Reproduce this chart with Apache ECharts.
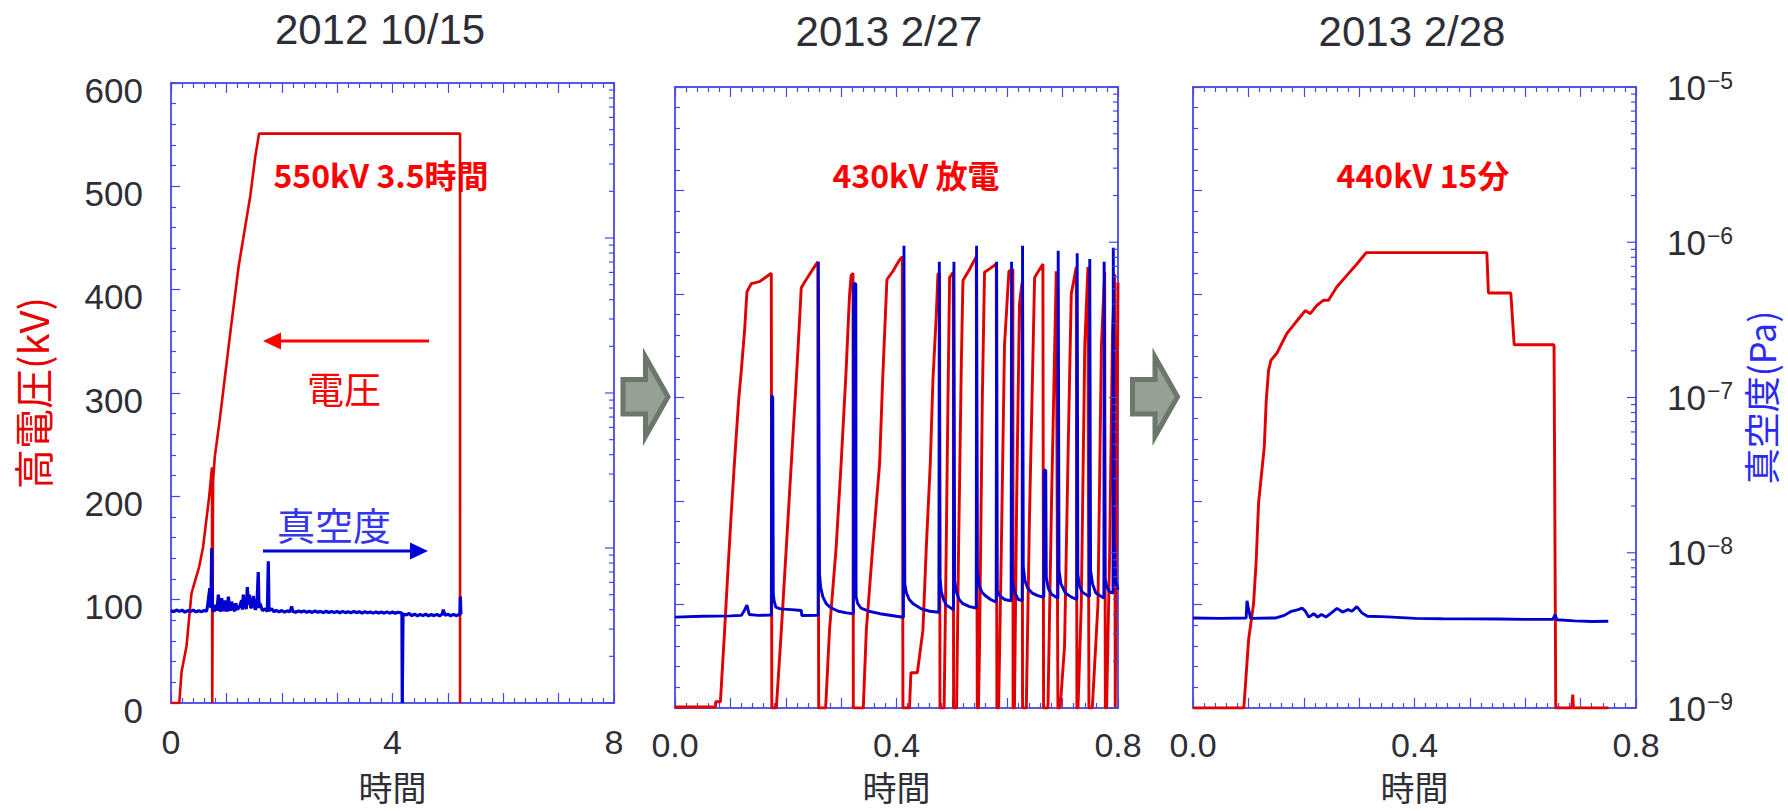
<!DOCTYPE html>
<html><head><meta charset="utf-8">
<script src="https://cdn.jsdelivr.net/npm/echarts@6/dist/echarts.min.js"></script>
<style>html,body{margin:0;padding:0;background:#fff}#c{width:1788px;height:811px}</style>
</head><body><div id="c"></div>
<script>
// ---------- texts ----------
const panelTitles = ['2012 10/15', '2013 2/27', '2013 2/28'];
const panelNotes = ['550kV 3.5時間', '430kV 放電', '440kV 15分'];
const xAxisName = '時間';
const leftAxisName = '高電圧(kV)';
const rightAxisName = '真空度(Pa)';
const voltageArrowLabel = '電圧';
const vacuumArrowLabel = '真空度';

// ---------- axes ----------
const xMaxes = [8, 0.8, 0.8];
const xIntervals = [1, 0.1, 0.1];
const xTickLabels = [[0, 4, 8], [0, 0.4, 0.8], [0, 0.4, 0.8]];
const voltageRange = [0, 600];
const voltageInterval = 100;
const vacuumRange = [1e-9, 1e-5];
const logMajorTicks = [1e-9, 1e-8, 1e-7, 1e-6, 1e-5];
const logMinorTicks = [2e-9,3e-9,4e-9,5e-9,6e-9,7e-9,8e-9,9e-9,
  2e-8,3e-8,4e-8,5e-8,6e-8,7e-8,8e-8,9e-8,
  2e-7,3e-7,4e-7,5e-7,6e-7,7e-7,8e-7,9e-7,
  2e-6,3e-6,4e-6,5e-6,6e-6,7e-6,8e-6,9e-6];

// ---------- data: panel 1 (2012 10/15) [time, kV] / [time, Pa] ----------
const oct15Voltage = [[0,0],[0.15,0],[0.19,30],[0.28,55],[0.37,106],[0.51,132],[0.58,151],[0.69,200],[0.74,228],[0.745,0],[0.755,0],[0.76,215],[0.79,238],[0.88,274],[1.07,358],[1.22,422],[1.34,461],[1.43,490],[1.52,528],[1.59,551],[5.22,551],[5.22,0]];
const oct15Vacuum = [[0,3.95e-9],[0.05,3.88e-9],[0.1,3.98e-9],[0.15,3.9e-9],[0.2,3.97e-9],[0.25,3.86e-9],[0.3,3.95e-9],[0.35,3.89e-9],[0.4,3.97e-9],[0.45,3.87e-9],[0.5,3.94e-9],[0.55,3.88e-9],[0.6,3.96e-9],[0.64,3.9e-9],[0.66,4.2e-9],[0.70,5.5e-9],[0.72,4.1e-9],[0.735,1e-8],[0.75,4.0e-9],[0.78,3.9e-9],[0.8,4.3e-9],[0.83,3.95e-9],[0.855,5.0e-9],[0.88,4.0e-9],[0.9,3.9e-9],[0.915,4.75e-9],[0.94,4.1e-9],[0.96,3.92e-9],[0.975,4.6e-9],[1.0,4.05e-9],[1.02,3.9e-9],[1.035,4.85e-9],[1.06,4.1e-9],[1.08,3.95e-9],[1.095,4.5e-9],[1.13,4.05e-9],[1.15,3.9e-9],[1.17,4.4e-9],[1.2,4.0e-9],[1.23,4.15e-9],[1.25,4.3e-9],[1.276,4.6e-9],[1.29,4.0e-9],[1.306,5.0e-9],[1.33,4.2e-9],[1.36,4.05e-9],[1.378,5.6e-9],[1.40,4.3e-9],[1.414,5.0e-9],[1.44,4.1e-9],[1.47,4.25e-9],[1.486,4.9e-9],[1.52,4.0e-9],[1.55,4.2e-9],[1.576,7.0e-9],[1.59,4.1e-9],[1.606,4.4e-9],[1.65,3.95e-9],[1.7,4.05e-9],[1.74,3.9e-9],[1.757,8.2e-9],[1.77,3.95e-9],[1.82,4.05e-9],[1.86,3.88e-9],[1.9,3.96e-9],[1.95,3.87e-9],[2.0,3.95e-9],[2.05,3.86e-9],[2.1,3.93e-9],[2.15,3.88e-9],[2.178,4.2e-9],[2.2,3.9e-9],[2.25,3.85e-9],[2.3,3.93e-9],[2.35,3.86e-9],[2.4,3.92e-9],[2.45,3.85e-9],[2.5,3.91e-9],[2.55,3.84e-9],[2.6,3.92e-9],[2.65,3.85e-9],[2.7,3.9e-9],[2.75,3.83e-9],[2.8,3.91e-9],[2.85,3.84e-9],[2.9,3.9e-9],[2.95,3.83e-9],[3.0,3.89e-9],[3.05,3.82e-9],[3.1,3.9e-9],[3.15,3.83e-9],[3.2,3.88e-9],[3.25,3.82e-9],[3.3,3.89e-9],[3.35,3.83e-9],[3.4,3.88e-9],[3.45,3.81e-9],[3.5,3.88e-9],[3.55,3.82e-9],[3.6,3.87e-9],[3.65,3.8e-9],[3.7,3.87e-9],[3.75,3.81e-9],[3.8,3.86e-9],[3.85,3.8e-9],[3.9,3.87e-9],[3.95,3.8e-9],[4.0,3.86e-9],[4.05,3.79e-9],[4.1,3.85e-9],[4.17,3.8e-9],[4.176,1e-9],[4.19,3.75e-9],[4.25,3.7e-9],[4.3,3.78e-9],[4.35,3.66e-9],[4.4,3.74e-9],[4.45,3.65e-9],[4.5,3.73e-9],[4.55,3.66e-9],[4.6,3.74e-9],[4.65,3.65e-9],[4.7,3.72e-9],[4.75,3.66e-9],[4.8,3.73e-9],[4.85,3.65e-9],[4.9,3.75e-9],[4.916,4.0e-9],[4.95,3.68e-9],[5.0,3.74e-9],[5.05,3.65e-9],[5.1,3.73e-9],[5.15,3.66e-9],[5.2,3.72e-9],[5.217,3.68e-9],[5.225,4.86e-9],[5.235,3.75e-9]];

// ---------- data: panel 2 (2013 2/27) ----------
const feb27Voltage = [[0,1],[0.073,1],[0.0735,6],[0.082,6],[0.0896,75],[0.0956,133],[0.1016,188],[0.1076,239],[0.1149,297],[0.1197,326],[0.1257,365],[0.1299,402],[0.1378,410],[0.1528,412],[0.1739,420],[0.1745,160],[0.1748,0],[0.183,0],[0.192,75],[0.201,155],[0.210,236],[0.219,317],[0.225,375],[0.228,406],[0.237,414],[0.249,424],[0.258,431],[0.2595,0],[0.272,0],[0.279,75],[0.291,155],[0.300,236],[0.309,326],[0.315,397],[0.318,418],[0.3215,420],[0.322,0],[0.340,0],[0.3455,75],[0.357,155],[0.3695,236],[0.375,317],[0.3827,414],[0.3935,422],[0.4056,433],[0.4105,436],[0.4116,0],[0.4235,0],[0.426,34],[0.4376,34],[0.4477,75],[0.4538,155],[0.461,236],[0.4658,317],[0.472,381],[0.4748,419],[0.4778,420],[0.4785,0],[0.486,0],[0.489,120],[0.493,300],[0.4959,416],[0.5025,421],[0.5031,0],[0.5085,0],[0.512,150],[0.517,330],[0.52,413],[0.53,422],[0.544,436],[0.5459,0],[0.548,0],[0.55,60],[0.555,300],[0.559,421],[0.57,425],[0.5802,429],[0.5813,0],[0.5844,0],[0.5892,150],[0.595,350],[0.603,422],[0.6102,424],[0.6105,0],[0.613,0],[0.617,200],[0.622,390],[0.627,412],[0.6276,0],[0.6344,0],[0.64,180],[0.6494,416],[0.6644,429],[0.6656,0],[0.6735,0],[0.68,200],[0.6885,422],[0.6915,0],[0.6955,0],[0.7035,60],[0.71,250],[0.7156,400],[0.7247,426],[0.7258,0],[0.7278,0],[0.7337,100],[0.74,350],[0.7457,426],[0.7475,0],[0.7536,0],[0.7638,100],[0.77,350],[0.7759,421],[0.7771,0],[0.7794,0],[0.7849,150],[0.79,360],[0.7939,419],[0.795,0],[0.7955,0],[0.7975,200],[0.8,411]];
const feb27Vacuum = [[0,3.85e-9],[0.05,3.9e-9],[0.1,3.92e-9],[0.12,3.95e-9],[0.126,4.3e-9],[0.1299,4.6e-9],[0.134,4.0e-9],[0.15,3.95e-9],[0.174,3.97e-9],[0.1745,1.03e-7],[0.1765,1.0e-7],[0.1775,5.4e-9],[0.179,4.9e-9],[0.182,4.46e-9],[0.19,4.35e-9],[0.21,4.3e-9],[0.228,4.25e-9],[0.229,3.94e-9],[0.2585,3.95e-9],[0.2588,7.5e-7],[0.26,7.5e-7],[0.261,7.3e-9],[0.263,6.0e-9],[0.267,5.2e-9],[0.273,4.7e-9],[0.28,4.46e-9],[0.295,4.2e-9],[0.31,4.1e-9],[0.322,4.05e-9],[0.3225,5.4e-7],[0.3265,5.4e-7],[0.327,5.2e-9],[0.33,4.7e-9],[0.336,4.4e-9],[0.35,4.2e-9],[0.37,4.05e-9],[0.40,3.9e-9],[0.4125,3.84e-9],[0.4135,9.5e-7],[0.415,6.3e-9],[0.418,5.5e-9],[0.423,5.0e-9],[0.43,4.69e-9],[0.445,4.35e-9],[0.46,4.2e-9],[0.4765,4.14e-9],[0.4773,7.5e-7],[0.4785,6.95e-9],[0.481,5.6e-9],[0.485,5.0e-9],[0.49,4.6e-9],[0.503,4.3e-9],[0.5037,7.5e-7],[0.505,6.6e-9],[0.508,5.6e-9],[0.513,5.0e-9],[0.52,4.7e-9],[0.532,4.5e-9],[0.544,4.4e-9],[0.5446,9.5e-7],[0.546,7.7e-9],[0.549,6.2e-9],[0.554,5.6e-9],[0.56,5.3e-9],[0.57,5.0e-9],[0.58,4.8e-9],[0.5808,7.5e-7],[0.582,5.7e-9],[0.586,5.3e-9],[0.595,5.0e-9],[0.607,4.9e-9],[0.6078,7.5e-7],[0.609,6.6e-9],[0.613,5.6e-9],[0.62,5.0e-9],[0.627,4.9e-9],[0.6276,9.5e-7],[0.629,8.1e-9],[0.632,6.6e-9],[0.637,5.9e-9],[0.645,5.5e-9],[0.655,5.3e-9],[0.666,5.17e-9],[0.6665,3.4e-8],[0.6695,3.4e-8],[0.6705,6.95e-9],[0.674,5.9e-9],[0.68,5.4e-9],[0.6915,5.1e-9],[0.692,8.8e-7],[0.6935,7.7e-9],[0.697,6.3e-9],[0.705,5.5e-9],[0.715,5.2e-9],[0.7255,5.0e-9],[0.7263,8.5e-7],[0.7275,7.3e-9],[0.73,6.2e-9],[0.735,5.6e-9],[0.7485,5.2e-9],[0.749,7.8e-7],[0.7505,7.7e-9],[0.754,6.3e-9],[0.76,5.5e-9],[0.7745,5.1e-9],[0.775,7.5e-7],[0.7765,6.9e-9],[0.78,6.0e-9],[0.785,5.6e-9],[0.791,5.5e-9],[0.7915,9.2e-7],[0.793,1.14e-8],[0.796,6.5e-9],[0.8,5.8e-9]];

// ---------- data: panel 3 (2013 2/28) ----------
const feb28Voltage = [[0,0],[0.0918,0],[0.1004,66],[0.1094,101],[0.1142,143],[0.1184,198],[0.1245,230],[0.1287,252],[0.1323,297],[0.1364,326],[0.1408,336],[0.1516,343],[0.1696,362],[0.1937,378],[0.2027,384],[0.2117,381],[0.2238,389],[0.2358,394],[0.2447,394],[0.2599,407],[0.2779,418],[0.296,429],[0.3128,440],[0.5306,440],[0.5335,401],[0.5739,401],[0.58,351],[0.652,351],[0.6551,0],[0.684,0],[0.6858,13],[0.687,0],[0.75,0]];
const feb28Vacuum = [[0,3.8e-9],[0.05,3.78e-9],[0.096,3.8e-9],[0.0975,4.9e-9],[0.100,4.4e-9],[0.104,3.78e-9],[0.15,3.8e-9],[0.165,3.95e-9],[0.176,4.17e-9],[0.19,4.3e-9],[0.197,4.4e-9],[0.203,4.2e-9],[0.209,3.85e-9],[0.218,4.05e-9],[0.225,3.85e-9],[0.232,4.0e-9],[0.24,3.85e-9],[0.25,4.1e-9],[0.26,4.38e-9],[0.27,4.15e-9],[0.28,4.3e-9],[0.287,4.2e-9],[0.2959,4.5e-9],[0.305,4.1e-9],[0.315,3.9e-9],[0.34,3.88e-9],[0.36,3.85e-9],[0.4013,3.78e-9],[0.45,3.76e-9],[0.5,3.75e-9],[0.55,3.74e-9],[0.6,3.72e-9],[0.65,3.72e-9],[0.6539,4.0e-9],[0.657,3.7e-9],[0.689,3.64e-9],[0.72,3.61e-9],[0.75,3.62e-9]];

const voltageSeries = [oct15Voltage, feb27Voltage, feb28Voltage];
const vacuumSeries = [oct15Vacuum, feb27Vacuum, feb28Vacuum];

// ---------- styles ----------
const FONT = "'Noto Sans CJK JP', 'Noto Sans', sans-serif";
const NUMFONT = "'Liberation Sans', 'DejaVu Sans', sans-serif";
const frameColor = '#2222e0';
const tickColor = '#4646ee';
const textColor = '#2e2e36';
const redLine = '#e00000';
const blueLine = '#0000d0';
const grids = [
  {left: 171, top: 83, width: 443, height: 620},
  {left: 675, top: 87, width: 443, height: 621},
  {left: 1193, top: 87, width: 443, height: 621}
];
const xNameGaps = [66, 61, 61];
const xLabelMargins = [22, 20, 20];

const xAxes = [], yAxes = [], series = [];
grids.forEach((g, i) => {
  const xm = xMaxes[i];
  const fmt = v => (i === 0 ? String(Math.round(v)) : v.toFixed(1));
  const common = {
    type: 'value', gridIndex: i, min: 0, max: xm, interval: xIntervals[i],
    axisLine: {show: true, onZero: false, lineStyle: {color: frameColor, width: 1.5}},
    axisTick: {show: true, inside: true, length: 10, lineStyle: {color: tickColor, width: 1.2}},
    minorTick: {show: true, splitNumber: 5, length: 5, lineStyle: {color: tickColor, width: 1.2}},
    splitLine: {show: false}
  };
  xAxes.push(Object.assign({}, common, {
    position: 'bottom',
    axisLabel: {show: true, customValues: xTickLabels[i], margin: xLabelMargins[i], fontSize: 34, lineHeight: 34,
                color: textColor, fontFamily: NUMFONT, formatter: fmt},
    name: xAxisName, nameLocation: 'middle', nameGap: xNameGaps[i],
    nameTextStyle: {fontSize: 34, lineHeight: 34, color: textColor, fontFamily: FONT}
  }));
  xAxes.push(Object.assign({}, common, {position: 'top', axisLabel: {show: false}}));

  yAxes.push({
    type: 'value', gridIndex: i, position: 'left',
    min: voltageRange[0], max: voltageRange[1], interval: voltageInterval,
    axisLine: {show: true, onZero: false, lineStyle: {color: frameColor, width: 1.5}},
    axisTick: {show: true, inside: true, length: 9, lineStyle: {color: tickColor, width: 1.2}},
    minorTick: {show: true, splitNumber: 5, length: 5, lineStyle: {color: tickColor, width: 1.2}},
    splitLine: {show: false},
    axisLabel: {show: i === 0, margin: 28, fontFamily: NUMFONT,
      formatter: v => '{v|' + v + '}',
      rich: {v: {fontSize: 35, lineHeight: 35, color: textColor, fontFamily: NUMFONT, padding: [14, 0, 0, 0]}}},
    name: i === 0 ? leftAxisName : '', nameLocation: 'middle', nameGap: 119, nameRotate: 90,
    nameTextStyle: {fontSize: 40, lineHeight: 40, color: '#e80000', fontFamily: FONT}
  });
  yAxes.push({
    type: 'log', logBase: 10, gridIndex: i, position: 'right',
    min: vacuumRange[0], max: vacuumRange[1], splitNumber: 4,
    axisLine: {show: true, onZero: false, lineStyle: {color: frameColor, width: 1.5}},
    axisTick: {show: false}, minorTick: {show: false}, splitLine: {show: false},
    axisLabel: {
      show: i === 2, margin: 31, fontFamily: NUMFONT,
      formatter: v => '{b|10}{s|\u2212' + (-Math.round(Math.log10(v))) + '}',
      rich: {
        b: {fontSize: 35, lineHeight: 36, color: textColor, fontFamily: NUMFONT},
        s: {fontSize: 23, lineHeight: 22, color: textColor, fontFamily: NUMFONT, verticalAlign: 'top', padding: [0, 0, 0, 1]}
      }
    },
    name: i === 2 ? rightAxisName : '', nameLocation: 'middle', nameGap: 106, nameRotate: 90,
    nameTextStyle: {fontSize: 36, lineHeight: 36, color: '#2a2af0', fontFamily: FONT}
  });

  series.push({
    type: 'line', xAxisIndex: 2 * i, yAxisIndex: 2 * i, data: voltageSeries[i],
    showSymbol: false, symbol: 'none', animation: false, z: 3,
    lineStyle: {color: redLine, width: i === 0 ? 2.6 : 2.9}
  });
  series.push({
    type: 'line', xAxisIndex: 2 * i, yAxisIndex: 2 * i + 1, data: vacuumSeries[i],
    showSymbol: false, symbol: 'none', animation: false, z: 4,
    lineStyle: {color: blueLine, width: i === 0 ? 3.2 : 2.9}
  });
  const tickData = logMajorTicks.map(v => [xm, v, 1]).concat(logMinorTicks.map(v => [xm, v, 0]));
  series.push({
    type: 'custom', xAxisIndex: 2 * i, yAxisIndex: 2 * i + 1, data: tickData,
    encode: {x: 0, y: 1}, silent: true, clip: false, animation: false, z: 5,
    renderItem: (params, api) => {
      const p = api.coord([api.value(0), api.value(1)]);
      const len = api.value(2) ? 9 : 5;
      return {type: 'line', shape: {x1: p[0] - len, y1: p[1], x2: p[0], y2: p[1]},
              style: {stroke: tickColor, lineWidth: 1.2}};
    }
  });
});

const titleCenters = [[380, 29], [889, 31], [1412, 31]];
const noteCenters = [[381, 174], [916, 174], [1423, 174]];
const graphics = [];
panelTitles.forEach((t, i) => graphics.push({
  type: 'text', x: titleCenters[i][0], y: titleCenters[i][1],
  style: {text: t, fontSize: 42, fill: textColor, fontFamily: NUMFONT, textAlign: 'center', textVerticalAlign: 'middle'}
}));
panelNotes.forEach((t, i) => graphics.push({
  type: 'text', x: noteCenters[i][0], y: noteCenters[i][1],
  style: {text: t, fontSize: 32, fontWeight: 'bold', fill: '#ff0000', fontFamily: FONT, textAlign: 'center', textVerticalAlign: 'middle'}
}));
graphics.push({type: 'text', x: 344, y: 388, style: {text: voltageArrowLabel, fontSize: 37, fill: '#ff0000', fontFamily: FONT, textAlign: 'center', textVerticalAlign: 'middle'}});
graphics.push({type: 'text', x: 334, y: 523, style: {text: vacuumArrowLabel, fontSize: 38, fill: '#3535ee', fontFamily: FONT, textAlign: 'center', textVerticalAlign: 'middle'}});
// red arrow (pointing left)
graphics.push({type: 'line', shape: {x1: 429, y1: 341, x2: 276, y2: 341}, style: {stroke: '#ff0000', lineWidth: 3}});
graphics.push({type: 'polygon', shape: {points: [[263, 341], [281, 332.5], [281, 349.5]]}, style: {fill: '#ff0000'}});
// blue arrow (pointing right)
graphics.push({type: 'line', shape: {x1: 263, y1: 551, x2: 414, y2: 551}, style: {stroke: '#0000dd', lineWidth: 3}});
graphics.push({type: 'polygon', shape: {points: [[428, 551], [410, 542.5], [410, 559.5]]}, style: {fill: '#0000dd'}});
// grey block arrows between panels
[0, 509.5].forEach(dx => graphics.push({
  type: 'polygon',
  shape: {points: [[623 + dx, 379.5], [645.5 + dx, 379.5], [645.5 + dx, 357], [668 + dx, 396.7], [645.5 + dx, 436.5], [645.5 + dx, 414], [623 + dx, 414]]},
  style: {fill: '#96a196', stroke: '#6c776c', lineWidth: 5, lineJoin: 'miter'}
}));

const chart = echarts.init(document.getElementById('c'), null, {renderer: 'svg'});
chart.setOption({
  backgroundColor: '#ffffff',
  animation: false,
  grid: grids.map(g => Object.assign({containLabel: false}, g)),
  xAxis: xAxes,
  yAxis: yAxes,
  series: series,
  graphic: graphics
});
</script>
</body></html>
